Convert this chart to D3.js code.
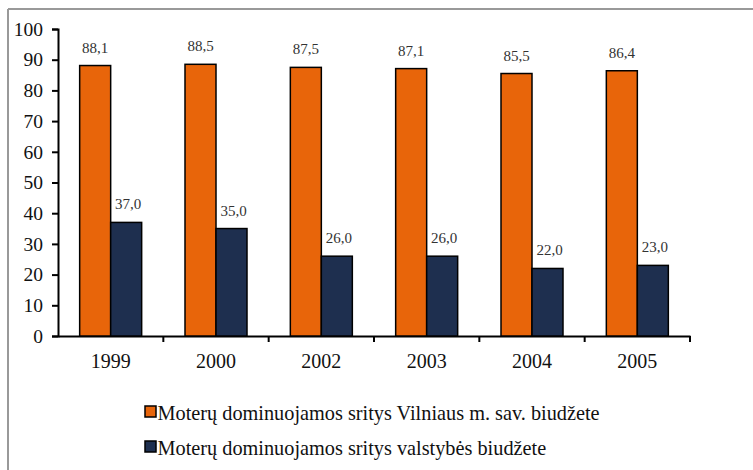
<!DOCTYPE html>
<html>
<head>
<meta charset="utf-8">
<script src="https://cdn.jsdelivr.net/npm/d3@7"></script>
<style>
  body { margin: 0; background: #fff; }
  svg text { font-family: "Liberation Serif", "Times New Roman", Times, serif; }
</style>
</head>
<body>
<div id="chart"></div>
<script>
// data
const years = ["1999", "2000", "2002", "2003", "2004", "2005"];
const vilnius = [88.1, 88.5, 87.5, 87.1, 85.5, 86.4];
const valstybe = [37.0, 35.0, 26.0, 26.0, 22.0, 23.0];
const seriesNames = [
    "Moterų dominuojamos sritys Vilniaus m. sav. biudžete",
    "Moterų dominuojamos sritys valstybės biudžete"
];
const colors = ["#E8650A", "#1E2F4F"];

const W = 753, H = 470;
const margin = { top: 29, left: 58, right: 63, bottom: 134 };
const width = W - margin.left - margin.right;
const height = H - margin.top - margin.bottom;

const svg = d3.select("#chart").append("svg")
    .attr("width", W)
    .attr("height", H);

// frame
svg.append("line").attr("x1", 8).attr("x2", W).attr("y1", 9).attr("y2", 9)
    .attr("stroke", "#999").attr("stroke-width", 2);
svg.append("line").attr("x1", 8).attr("x2", 8).attr("y1", 9).attr("y2", H)
    .attr("stroke", "#999").attr("stroke-width", 2);

const g = svg.append("g").attr("transform", `translate(${margin.left},${margin.top})`);

const x = d3.scaleBand().domain(years).range([0, width]).padding(0);
const y = d3.scaleLinear().domain([0, 100]).range([height, 0]);
const barW = 31;

// axes
const yAxis = g.append("g").call(d3.axisLeft(y).ticks(10).tickSize(6).tickPadding(9));
yAxis.attr("font-family", null);
yAxis.select(".domain").attr("stroke", "#000").attr("stroke-width", 2);
yAxis.selectAll(".tick line").attr("stroke-width", 2);
yAxis.selectAll("text").attr("font-size", 19.5).attr("fill", "#111");

const xAxis = g.append("g").attr("transform", `translate(0,${height})`)
    .call(d3.axisBottom(x).tickSize(0).tickPadding(18));
xAxis.attr("font-family", null);
xAxis.select(".domain").attr("stroke", "#000").attr("stroke-width", 2);
xAxis.selectAll("text").attr("font-size", 20).attr("fill", "#111");
// category separators
g.append("g").selectAll("line")
    .data(years.slice(1).concat(["end"]))
    .join("line")
    .attr("x1", (d, i) => x.step() * (i + 1))
    .attr("x2", (d, i) => x.step() * (i + 1))
    .attr("y1", height).attr("y2", height + 6)
    .attr("stroke", "#000").attr("stroke-width", 2);

// bars
const series = [vilnius, valstybe];
series.forEach((vals, s) => {
    const grp = g.append("g");
    grp.selectAll("rect")
        .data(vals)
        .join("rect")
        .attr("x", (d, i) => x(years[i]) + x.bandwidth() / 2 - barW + s * barW)
        .attr("y", d => y(d))
        .attr("width", barW)
        .attr("height", d => height - y(d))
        .attr("fill", colors[s])
        .attr("stroke", "#000")
        .attr("stroke-width", 1.5);
    grp.selectAll("text")
        .data(vals)
        .join("text")
        .attr("x", (d, i) => x(years[i]) + x.bandwidth() / 2 - barW / 2 + s * barW + (s ? 2 : 0))
        .attr("y", d => y(d) - 13)
        .attr("text-anchor", "middle")
        .attr("font-size", 15)
        .attr("fill", "#333")
        .text(d => d.toFixed(1).replace(".", ","));
});

// legend
const legend = svg.append("g").attr("transform", "translate(145,406)");
seriesNames.forEach((name, i) => {
    legend.append("rect")
        .attr("x", 0).attr("y", i * 35)
        .attr("width", 11).attr("height", 11)
        .attr("fill", colors[i]).attr("stroke", "#000").attr("stroke-width", 1.5);
    legend.append("text")
        .attr("x", 12.5).attr("y", i * 35 + 14)
        .attr("font-size", 20.3).attr("fill", "#111")
        .text(name);
});
</script>
</body>
</html>
